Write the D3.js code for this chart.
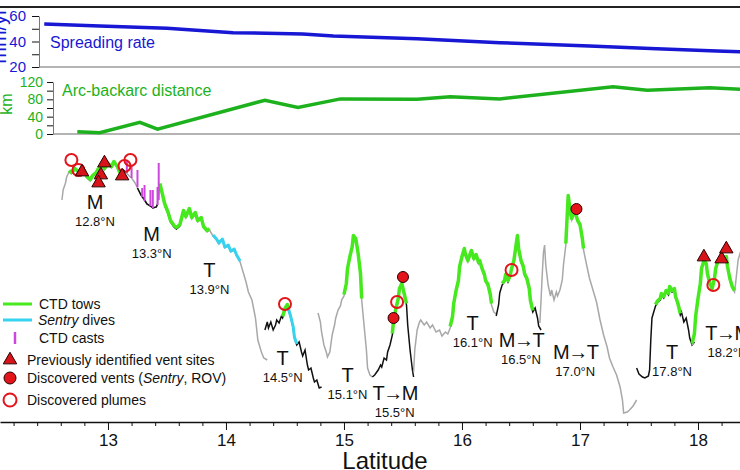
<!DOCTYPE html>
<html>
<head>
<meta charset="utf-8">
<script src="https://cdn.jsdelivr.net/npm/d3@7"></script>
<style>
body { margin: 0; background: #fff; }
svg { display: block; font-family: Arial, "Liberation Sans", sans-serif; }
</style>
</head>
<body>
<svg id="chart" width="740" height="470"></svg>
<script>
// spreading rate (mm/yr) and arc-backarc distance (km) along latitude
var rateLat = [12.46, 12.93, 13.50, 14.06, 14.65, 14.91, 15.62, 16.32, 17.08, 17.65, 18.16, 18.36];
var rateVal = [53.7, 52.2, 50.4, 46.9, 45.9, 44.3, 42.2, 39.1, 36.5, 34.4, 32.5, 32.0];
var distLat = [12.74, 12.93, 13.27, 13.42, 14.33, 14.61, 14.97, 15.62, 15.90, 16.32, 17.28, 17.57, 18.10, 18.36];
var distVal = [5, 3, 27, 11, 78, 61, 81, 80, 86, 81, 109, 101, 107, 103];

// axial depth profile pieces [lat, depth m]
var seg1 = [[12.61,3000],[12.62,2900],[12.64,2830],[12.65,2770],[12.67,2720],[12.69,2740],[12.72,2700],[12.75,2730],[12.77,2760],[12.80,2720],[12.82,2780],[12.85,2810],[12.87,2770],[12.90,2740],[12.92,2700],[12.95,2660],[12.97,2700],[13.00,2650],[13.03,2680],[13.05,2630],[13.08,2680],[13.10,2740],[13.13,2700],[13.15,2720],[13.18,2760],[13.20,2780],[13.23,2830],[13.25,2880],[13.28,2950],[13.31,3000],[13.33,3040],[13.36,3060],[13.38,3080],[13.41,3070],[13.42,3040],[13.44,2850],[13.46,2950],[13.48,3050],[13.51,3140],[13.53,3220],[13.56,3270],[13.58,3290],[13.61,3260],[13.64,3120],[13.66,3180],[13.69,3100],[13.71,3190],[13.74,3140],[13.76,3220],[13.79,3190],[13.81,3280],[13.84,3320],[13.86,3300],[13.89,3360],[13.92,3400],[13.94,3440],[13.97,3400],[13.99,3480],[14.02,3460],[14.04,3520],[14.07,3500],[14.09,3560],[14.12,3620],[14.14,3700],[14.17,3820],[14.19,3920],[14.22,4000],[14.25,4180],[14.27,4400],[14.30,4520],[14.32,4580],[14.35,4600]];
var seg2 = [[14.33,4300],[14.35,4220],[14.36,4280],[14.38,4220],[14.40,4300],[14.42,4250],[14.43,4200],[14.45,4230],[14.47,4160],[14.48,4180],[14.50,4100],[14.52,4060],[14.53,4100],[14.55,4180],[14.57,4280],[14.58,4380],[14.60,4450],[14.62,4420],[14.64,4520],[14.65,4560],[14.67,4500],[14.69,4650],[14.70,4700],[14.72,4680],[14.74,4780],[14.75,4820],[14.77,4800],[14.79,4880],[14.81,4870]];
var seg3 = [[14.78,4130],[14.80,4220],[14.81,4320],[14.83,4450],[14.85,4520],[14.86,4570],[14.88,4520],[14.90,4350],[14.92,4250],[14.93,4180],[14.95,4100],[14.97,4060],[14.98,4000],[15.00,3960],[15.02,3850],[15.03,3700],[15.05,3580],[15.07,3480],[15.08,3370],[15.10,3400],[15.12,3550],[15.14,3750],[15.15,4000],[15.17,4250],[15.19,4500],[15.20,4680],[15.22,4750],[15.24,4770]];
var seg4 = [[15.24,4770],[15.26,4750],[15.29,4700],[15.31,4650],[15.32,4670],[15.34,4580],[15.36,4600],[15.37,4520],[15.39,4450],[15.41,4350],[15.42,4220],[15.44,4100],[15.46,4000],[15.47,3900],[15.49,3850],[15.51,3950],[15.53,4050],[15.54,4250],[15.56,4500],[15.58,4700],[15.59,4770]];
var seg5 = [[15.59,4720],[15.60,4500],[15.62,4300],[15.64,4220],[15.65,4200],[15.68,4250],[15.70,4220],[15.73,4280],[15.75,4250],[15.78,4320],[15.81,4300],[15.83,4360],[15.86,4320],[15.88,4340],[15.90,4280],[15.92,4180],[15.93,4050],[15.95,3920],[15.97,3820],[15.98,3680],[16.00,3580],[16.02,3500],[16.03,3560],[16.05,3620],[16.07,3550],[16.08,3520],[16.10,3600],[16.12,3560],[16.14,3640],[16.15,3620],[16.17,3700],[16.19,3760],[16.20,3820],[16.22,3860],[16.24,3960],[16.25,4050],[16.27,4120],[16.29,4140]];
var seg6 = [[16.29,4160],[16.31,4050],[16.32,3930],[16.34,3850],[16.36,3820],[16.37,3760],[16.39,3820],[16.41,3760],[16.42,3700],[16.44,3620],[16.46,3450],[16.47,3370],[16.48,3500],[16.50,3620],[16.52,3680],[16.53,3750],[16.55,3800],[16.57,3900],[16.58,4020],[16.60,4120],[16.62,4080],[16.64,4180],[16.65,4260],[16.67,4300]];
var seg7 = [[16.66,4230],[16.67,4000],[16.68,3750],[16.69,3530],[16.70,3450],[16.71,3650],[16.73,3850],[16.75,3960],[16.76,3900],[16.78,4000],[16.80,3920],[16.81,3960],[16.83,3900],[16.85,3800],[16.86,3650],[16.88,3450],[16.90,2970],[16.92,3150],[16.93,3200],[16.95,3130],[16.97,3180],[16.98,3220],[17.00,3260],[17.02,3400],[17.03,3500],[17.06,3670],[17.08,3780],[17.11,3900],[17.14,4020],[17.17,4200],[17.20,4350],[17.23,4470],[17.25,4580],[17.28,4670],[17.31,4750],[17.34,4870],[17.36,5000],[17.37,5130],[17.40,5120],[17.42,5100],[17.45,5060],[17.48,5000]];
var seg8 = [[17.48,4680],[17.50,4740],[17.53,4770],[17.55,4780],[17.58,4760],[17.59,4700],[17.60,4400],[17.61,4180],[17.63,4100],[17.64,4060],[17.66,4020],[17.68,4000],[17.69,3950],[17.71,3980],[17.73,3920],[17.75,3950],[17.76,3880],[17.78,3920],[17.80,3900],[17.81,3980],[17.83,4050],[17.85,4150],[17.86,4120],[17.88,4220],[17.90,4180],[17.92,4300],[17.93,4380],[17.95,4450],[17.97,4420]];
var seg9 = [[17.95,4450],[17.97,4350],[17.98,4180],[18.00,4000],[18.02,3850],[18.03,3700],[18.05,3620],[18.07,3650],[18.08,3750],[18.10,3850],[18.12,3900],[18.14,3800],[18.15,3700],[18.17,3620],[18.19,3620],[18.20,3550],[18.22,3600],[18.24,3580],[18.25,3680],[18.27,3800],[18.29,3880],[18.31,3920],[18.32,3820],[18.34,3600],[18.36,3520]];
var segments = [seg1, seg2, seg3, seg4, seg5, seg6, seg7, seg8, seg9];
var segIsBlack = [false, true, false, true, false, true, false, true, false];

// [segment index, from lat, to lat]
var blackRuns = [[0,13.10,13.15],[0,13.25,13.42],[0,13.48,13.61]];
var towRuns = [[0,12.66,13.10],[0,13.44,13.86],[1,14.48,14.53],[2,15.00,15.15],[3,15.41,15.53],[4,15.90,16.25],[5,16.34,16.60],[6,16.88,17.03],[7,17.64,17.85],[8,17.95,18.31]];
var sentryRuns = [[0,13.89,14.12],[1,14.53,14.60]];

// CTD casts [lat, top depth, bottom depth]
var casts = [[13.16,2600,2730],[13.20,2650,2780],[13.25,2700,2870],[13.29,2880,2970],[13.31,2850,3010],[13.36,2900,3060],[13.38,2900,3080],[13.42,2870,3050],[13.43,2630,3000]];

var prevVents = [[12.78,2720],[12.97,2630],[12.94,2750],[12.92,2830],[13.12,2760],[18.05,3570],[18.20,3590],[18.24,3490]];
var newVents = [[15.42,4180],[15.50,3770],[16.97,3090]];
var plumes = [[12.69,2600],[12.75,2700],[13.14,2660],[13.19,2600],[14.50,4040],[15.45,4020],[16.42,3700],[18.13,3850]];

var segNames = ["M", "M", "T", "T", "T", "T\u2192M", "T", "M\u2192T", "M\u2192T", "T", "T\u2192M"];
var segLats = ["12.8\u00b0N", "13.3\u00b0N", "13.9\u00b0N", "14.5\u00b0N", "15.1\u00b0N", "15.5\u00b0N", "16.1\u00b0N", "16.5\u00b0N", "17.0\u00b0N", "17.8\u00b0N", "18.2\u00b0N"];
var labelAt = [[12.89,3090],[13.37,3410],[13.86,3770],[14.48,4650],[15.03,4820],[15.43,5000],[16.09,4300],[16.50,4470],[16.96,4590],[17.78,4590],[18.25,4400]];

var majorTicks = [12, 13, 14, 15, 16, 17, 18];
var minorTicks = [12.2, 12.4, 12.6, 12.8, 13.2, 13.4, 13.6, 13.8, 14.2, 14.4, 14.6, 14.8, 15.2, 15.4, 15.6, 15.8, 16.2, 16.4, 16.6, 16.8, 17.2, 17.4, 17.6, 17.8, 18.2, 18.4];
var rateTicks = [20, 30, 40, 50, 60];
var distTicks = [0, 20, 40, 60, 80, 100, 120];

var blue = "#1717d4", green = "#1db21d", red = "#e3151b";
var font = "Arial, 'Liberation Sans', sans-serif";

var svg = d3.select("#chart");

var x = d3.scaleLinear().domain([12.085, 18.356]).range([0, 740]);
var yRate = d3.scaleLinear().domain([20, 60]).range([67, 16]);
var yDist = d3.scaleLinear().domain([0, 120]).range([134, 82]);
var yDepth = d3.scaleLinear().domain([2500, 5300]).range([150, 430]);

// frame line on top
svg.append("line").attr("x1", 0).attr("x2", 740).attr("y1", 7).attr("y2", 7)
	.attr("stroke", "#222").attr("stroke-width", 2);

//---- spreading rate panel
svg.append("line").attr("x1", 39).attr("x2", 740)
	.attr("y1", yRate(20)).attr("y2", yRate(20))
	.attr("stroke", "#b4b4b4").attr("stroke-width", 2);

var gRate = svg.append("g").attr("transform", "translate(39,0)")
	.call(d3.axisLeft(yRate).tickValues(rateTicks).tickSize(7).tickSizeOuter(0).tickPadding(6)
		.tickFormat(function(d) { return d % 20 === 0 ? d : ""; }));
gRate.selectAll("path, line").attr("stroke", "#777");
gRate.selectAll("text").attr("fill", blue).style("font-size", "15px").style("font-family", font);

svg.append("path")
	.datum(d3.zip(rateLat, rateVal))
	.attr("fill", "none").attr("stroke", blue).attr("stroke-width", 3.5)
	.attr("d", d3.line().x(function(d) { return x(d[0]); }).y(function(d) { return yRate(d[1]); }));

svg.append("text").attr("x", 50).attr("y", 48).attr("fill", blue)
	.style("font-size", "16px").text("Spreading rate");
svg.append("text").attr("transform", "translate(6,36) rotate(-90)")
	.attr("text-anchor", "middle").attr("fill", blue)
	.style("font-size", "20px").text("mm/yr");

//---- arc-backarc distance panel
svg.append("line").attr("x1", 53).attr("x2", 740)
	.attr("y1", yDist(0)).attr("y2", yDist(0))
	.attr("stroke", "#b4b4b4").attr("stroke-width", 2);

var gDist = svg.append("g").attr("transform", "translate(53,0)")
	.call(d3.axisLeft(yDist).tickValues(distTicks).tickSize(6).tickSizeOuter(0).tickPadding(4)
		.tickFormat(function(d) { return d % 40 === 0 ? d : ""; }));
gDist.selectAll("path, line").attr("stroke", "#777");
gDist.selectAll("text").attr("fill", green).style("font-size", "14px").style("font-family", font);

svg.append("path")
	.datum(d3.zip(distLat, distVal))
	.attr("fill", "none").attr("stroke", green).attr("stroke-width", 3.5)
	.attr("d", d3.line().x(function(d) { return x(d[0]); }).y(function(d) { return yDist(d[1]); }));

svg.append("text").attr("x", 62).attr("y", 96).attr("fill", green)
	.style("font-size", "16px").text("Arc-backarc distance");
svg.append("text").attr("transform", "translate(12,104) rotate(-90)")
	.attr("text-anchor", "middle").attr("fill", green)
	.style("font-size", "16px").text("km");

//---- depth profile
var depthLine = d3.line()
	.x(function(d) { return x(d[0]); })
	.y(function(d) { return yDepth(d[1]); });

function runPoints(run) {
	return segments[run[0]].filter(function(p) {
		return p[0] >= run[1] - 1e-6 && p[0] <= run[2] + 1e-6;
	});
}

var gProf = svg.append("g");

gProf.selectAll("path.base")
	.data(segments)
	.enter().append("path")
	.attr("class", "base")
	.attr("fill", "none")
	.attr("stroke", function(d, i) { return segIsBlack[i] ? "#111" : "#a8a8a8"; })
	.attr("stroke-width", 1.5)
	.attr("d", depthLine);

gProf.selectAll("path.blk")
	.data(blackRuns)
	.enter().append("path")
	.attr("fill", "none").attr("stroke", "#111").attr("stroke-width", 1.5)
	.attr("d", function(r) { return depthLine(runPoints(r)); });

gProf.selectAll("path.tow")
	.data(towRuns)
	.enter().append("path")
	.attr("fill", "none").attr("stroke", "#46e81e").attr("stroke-width", 3.5)
	.attr("stroke-linejoin", "round")
	.attr("transform", "translate(0,-1.5)")
	.attr("d", function(r) { return depthLine(runPoints(r)); });

gProf.selectAll("path.sentry")
	.data(sentryRuns)
	.enter().append("path")
	.attr("fill", "none").attr("stroke", "#36d2ee").attr("stroke-width", 3)
	.attr("stroke-linejoin", "round")
	.attr("transform", "translate(0,-1)")
	.attr("d", function(r) { return depthLine(runPoints(r)); });

gProf.selectAll("line.cast")
	.data(casts)
	.enter().append("line")
	.attr("x1", function(d) { return x(d[0]); })
	.attr("x2", function(d) { return x(d[0]); })
	.attr("y1", function(d) { return yDepth(d[1]); })
	.attr("y2", function(d) { return yDepth(d[2]); })
	.attr("stroke", "#cc48dc").attr("stroke-width", 2);

// markers
var tri = d3.symbol().type(d3.symbolTriangle).size(78);

gProf.selectAll("circle.plume")
	.data(plumes)
	.enter().append("circle")
	.attr("cx", function(d) { return x(d[0]); })
	.attr("cy", function(d) { return yDepth(d[1]); })
	.attr("r", 6)
	.attr("fill", "none").attr("stroke", red).attr("stroke-width", 2);

gProf.selectAll("path.prev")
	.data(prevVents)
	.enter().append("path")
	.attr("d", tri)
	.attr("transform", function(d) { return "translate(" + x(d[0]) + "," + yDepth(d[1]) + ")"; })
	.attr("fill", "#d8141a").attr("stroke", "#2a0000").attr("stroke-width", 1);

gProf.selectAll("circle.vent")
	.data(newVents)
	.enter().append("circle")
	.attr("cx", function(d) { return x(d[0]); })
	.attr("cy", function(d) { return yDepth(d[1]); })
	.attr("r", 5.5)
	.attr("fill", "#e3141a").attr("stroke", "#2a0000").attr("stroke-width", 1);

// segment labels
var gLab = svg.append("g").attr("text-anchor", "middle").attr("fill", "#111");
labelAt.forEach(function(p, i) {
	var lx = x(p[0]), ly = yDepth(p[1]);
	gLab.append("text").attr("x", lx).attr("y", ly)
		.style("font-size", "20px")
		.style("letter-spacing", segNames[i].length > 1 ? "-1.5px" : null)
		.text(segNames[i]);
	gLab.append("text").attr("x", lx).attr("y", ly + 17)
		.style("font-size", "13px").text(segLats[i]);
});

// legend
var gLeg = svg.append("g").style("font-size", "14px").attr("fill", "#111");
gLeg.append("line").attr("x1", 3).attr("x2", 32).attr("y1", 304).attr("y2", 304)
	.attr("stroke", "#46e81e").attr("stroke-width", 3);
gLeg.append("text").attr("x", 39).attr("y", 309).text("CTD tows");
gLeg.append("line").attr("x1", 3).attr("x2", 32).attr("y1", 320).attr("y2", 320)
	.attr("stroke", "#36d2ee").attr("stroke-width", 3);
var sd = gLeg.append("text").attr("x", 38).attr("y", 325);
sd.append("tspan").style("font-style", "italic").text("Sentry");
sd.append("tspan").text(" dives");
gLeg.append("line").attr("x1", 15).attr("x2", 15).attr("y1", 332).attr("y2", 344)
	.attr("stroke", "#cc48dc").attr("stroke-width", 2.5);
gLeg.append("text").attr("x", 39).attr("y", 343).text("CTD casts");
gLeg.append("path").attr("d", tri).attr("transform", "translate(10,360)")
	.attr("fill", "#d8141a").attr("stroke", "#2a0000");
gLeg.append("text").attr("x", 27).attr("y", 365).text("Previously identified vent sites");
gLeg.append("circle").attr("cx", 10).attr("cy", 378).attr("r", 6)
	.attr("fill", "#e3141a").attr("stroke", "#2a0000");
var dv = gLeg.append("text").attr("x", 27).attr("y", 383);
dv.append("tspan").text("Discovered vents (");
dv.append("tspan").style("font-style", "italic").text("Sentry");
dv.append("tspan").text(", ROV)");
gLeg.append("circle").attr("cx", 10).attr("cy", 400).attr("r", 6.5)
	.attr("fill", "none").attr("stroke", red).attr("stroke-width", 2);
gLeg.append("text").attr("x", 27).attr("y", 405).text("Discovered plumes");

//---- latitude axis
var gx = svg.append("g").attr("transform", "translate(0,422)");
gx.call(d3.axisBottom(x).tickValues(minorTicks).tickSize(4).tickSizeOuter(0).tickFormat(""));
var gxMaj = svg.append("g").attr("transform", "translate(0,422)")
	.call(d3.axisBottom(x).tickValues(majorTicks).tickSize(8).tickSizeOuter(0).tickPadding(4)
		.tickFormat(d3.format("d")));
gx.select(".domain").remove();
svg.selectAll(".tick line").attr("stroke", "#111");
gxMaj.select(".domain").attr("stroke", "#111").attr("stroke-width", 1.5);
gxMaj.selectAll("text").attr("fill", "#111").style("font-size", "17px").style("font-family", font);

svg.append("text").attr("x", 385).attr("y", 469).attr("text-anchor", "middle")
	.attr("fill", "#111").style("font-size", "24px").text("Latitude");
</script>
</body>
</html>
